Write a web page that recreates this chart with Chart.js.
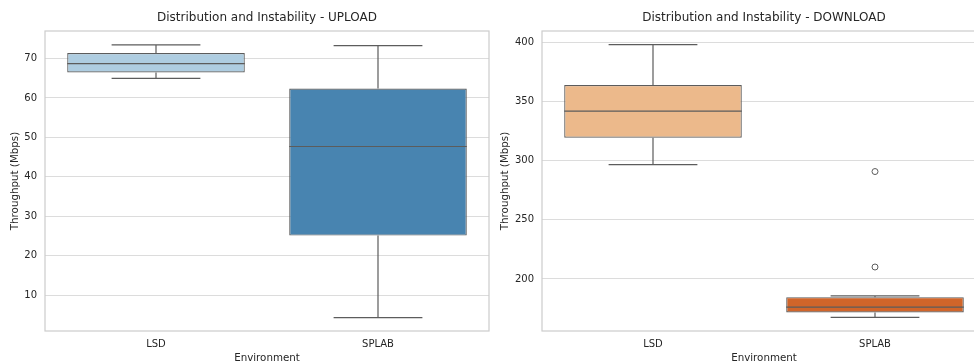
<!DOCTYPE html>
<html>
<head>
<meta charset="utf-8">
<script src="https://cdn.jsdelivr.net/npm/chart.js@4.4.1/dist/chart.umd.min.js"></script>
<style>
  body { margin: 0; width: 974px; height: 363px; overflow: hidden; background: #fff; position: relative; }
  #upload-chart { position: absolute; left: 0; top: 0; }
  #download-chart { position: absolute; left: 490px; top: 0; }
</style>
</head>
<body>
<canvas id="upload-chart" width="490" height="370"></canvas>
<canvas id="download-chart" width="496" height="370"></canvas>
<script>
const categories = ['LSD', 'SPLAB'];

// upload box stats (Mbps)
const uploadLow = [65.0, 4.3];
const uploadQ1 = [66.5, 25.1];
const uploadMedian = [68.7, 47.7];
const uploadQ3 = [71.4, 62.4];
const uploadHigh = [73.5, 73.3];
const uploadTicks = [10, 20, 30, 40, 50, 60, 70];
const uploadColors = ['#aecde1', '#4884b0'];

// download box stats (Mbps)
const downloadLow = [296.6, 167.5];
const downloadQ1 = [319.3, 171.7];
const downloadMedian = [341.8, 176.2];
const downloadQ3 = [363.9, 184.6];
const downloadHigh = [398.1, 185.7];
const downloadOutlierCats = ['SPLAB', 'SPLAB'];
const downloadOutlierValues = [290.8, 210.1];
const downloadTicks = [200, 250, 300, 350, 400];
const downloadColors = ['#ecb98b', '#d1652a'];

const LINE = '#5c5c5c';
const TEXT = '#262626';
const FONT = 'DejaVu Sans';

// whiskers, caps, medians drawn through the chart scales
const boxExtras = {
  id: 'boxExtras',
  afterDatasetsDraw(chart, args, opts) {
    const { ctx, scales: { x, y } } = chart;
    const half = (x.getPixelForValue(1) - x.getPixelForValue(0)) * 0.2;
    ctx.save();
    ctx.strokeStyle = LINE;
    ctx.lineWidth = 1.2;
    opts.low.forEach((lo, i) => {
      const cx = x.getPixelForValue(i);
      const hw = half * 2;
      const pLow = y.getPixelForValue(lo);
      const pHigh = y.getPixelForValue(opts.high[i]);
      const pQ1 = y.getPixelForValue(opts.q1[i]);
      const pQ3 = y.getPixelForValue(opts.q3[i]);
      const pMed = y.getPixelForValue(opts.median[i]);
      ctx.beginPath();
      ctx.moveTo(cx, pQ1); ctx.lineTo(cx, pLow);
      ctx.moveTo(cx, pQ3); ctx.lineTo(cx, pHigh);
      ctx.moveTo(cx - half, pLow); ctx.lineTo(cx + half, pLow);
      ctx.moveTo(cx - half, pHigh); ctx.lineTo(cx + half, pHigh);
      ctx.moveTo(cx - hw, pMed); ctx.lineTo(cx + hw, pMed);
      ctx.stroke();
    });
    ctx.restore();
  }
};

// light grey frame around the plot area
const frame = {
  id: 'frame',
  beforeDatasetsDraw(chart) {
    const { ctx, chartArea: a } = chart;
    ctx.save();
    ctx.strokeStyle = '#cccccc';
    ctx.lineWidth = 1.2;
    ctx.strokeRect(a.left, a.top, a.right - a.left, a.bottom - a.top);
    ctx.restore();
  }
};

function makeBoxChart(id, cfg) {
  const datasets = [{
    type: 'bar',
    data: cfg.q1.map((v, i) => [v, cfg.q3[i]]),
    backgroundColor: cfg.colors,
    borderColor: LINE,
    borderWidth: 1.2,
    borderSkipped: false,
    categoryPercentage: 1,
    barPercentage: 0.8
  }];
  if (cfg.outlierValues) {
    datasets.push({
      type: 'scatter',
      data: cfg.outlierValues.map((v, i) => ({ x: cfg.outlierCats[i], y: v })),
      pointRadius: 3,
      pointBorderWidth: 1,
      borderColor: LINE,
      backgroundColor: 'rgba(0,0,0,0)'
    });
  }

  return new Chart(document.getElementById(id), {
    type: 'bar',
    data: { labels: categories, datasets: datasets },
    plugins: [frame, boxExtras],
    options: {
      responsive: false,
      animation: false,
      layout: { autoPadding: false, padding: { left: 0, right: cfg.padRight, top: 0, bottom: 0 } },
      plugins: {
        legend: { display: false },
        tooltip: { enabled: false },
        title: {
          display: true,
          fullSize: false,
          text: cfg.title,
          color: TEXT,
          font: { family: FONT, size: 12, weight: 'normal' },
          padding: { top: 10.8, bottom: 5.8 }
        },
        boxExtras: cfg
      },
      scales: {
        x: {
          offset: true,
          grid: { display: false, drawTicks: false },
          border: { display: false },
          ticks: { color: TEXT, font: { family: FONT, size: 10 }, padding: 7 },
          title: {
            display: true,
            text: 'Environment',
            color: TEXT,
            font: { family: FONT, size: 10.3 },
            padding: { top: 0, bottom: 5.8 }
          },
          afterFit: (scale) => { scale.height = 39; }
        },
        y: {
          min: cfg.min,
          max: cfg.max,
          grid: { color: '#dcdcdc', lineWidth: 1.1, drawTicks: false },
          border: { display: false },
          ticks: { color: TEXT, font: { family: FONT, size: 10 }, padding: 8 },
          afterBuildTicks: (scale) => { scale.ticks = cfg.ticks.map(v => ({ value: v })); },
          title: {
            display: true,
            text: 'Throughput (Mbps)',
            color: TEXT,
            font: { family: FONT, size: 10.3 },
            padding: { top: 8.8, bottom: 0 }
          },
          afterFit: (scale) => { scale.width = cfg.axisWidth; }
        }
      }
    }
  });
}

makeBoxChart('upload-chart', {
  title: 'Distribution and Instability - UPLOAD',
  low: uploadLow, q1: uploadQ1, median: uploadMedian, q3: uploadQ3, high: uploadHigh,
  colors: uploadColors, ticks: uploadTicks,
  min: 0.9, max: 77.0, axisWidth: 45, padRight: 1
});

makeBoxChart('download-chart', {
  title: 'Distribution and Instability - DOWNLOAD',
  low: downloadLow, q1: downloadQ1, median: downloadMedian, q3: downloadQ3, high: downloadHigh,
  outlierCats: downloadOutlierCats, outlierValues: downloadOutlierValues,
  colors: downloadColors, ticks: downloadTicks,
  min: 156.0, max: 409.6, axisWidth: 52, padRight: 0
});
</script>
</body>
</html>
